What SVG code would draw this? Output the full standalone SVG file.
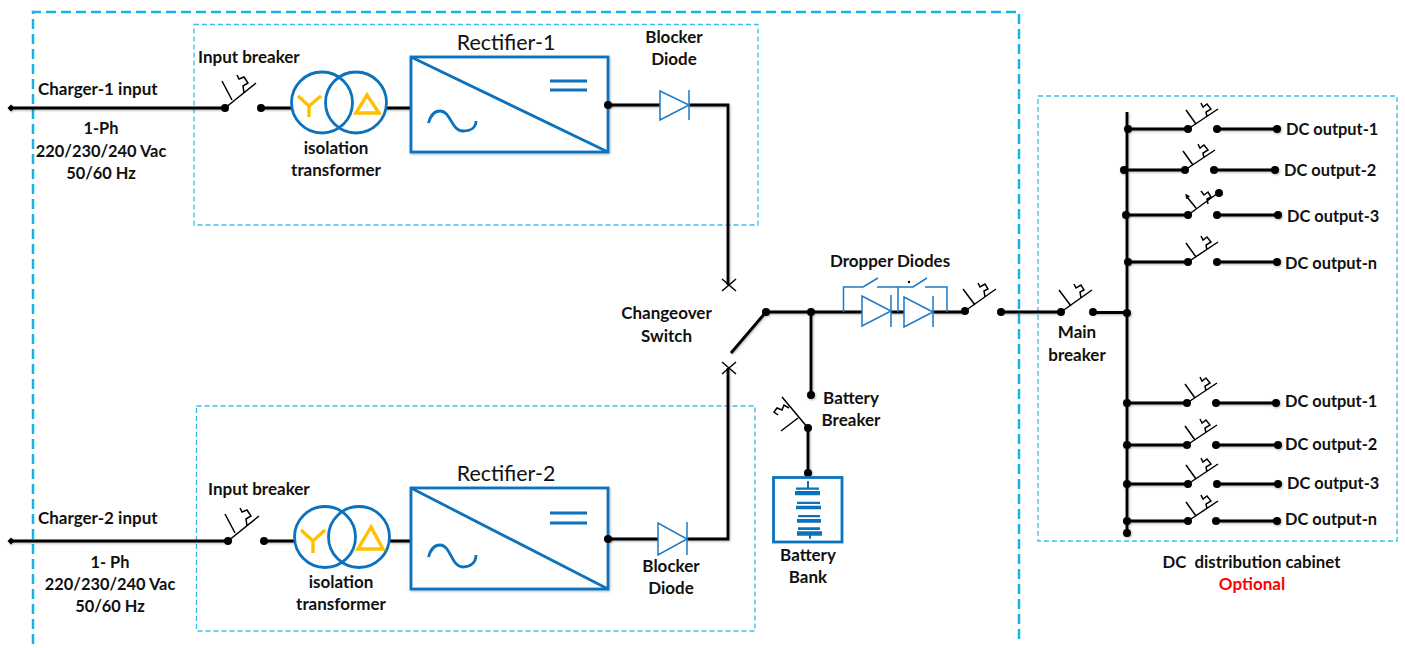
<svg xmlns="http://www.w3.org/2000/svg" width="1405" height="648" viewBox="0 0 1405 648">
<style>
text{font-family:"Lato","Open Sans","Liberation Sans",sans-serif;font-size:17px;font-weight:700;fill:#111}
.s{font-size:16.400px}
.m{text-anchor:middle}
.big{font-size:21.400px;font-weight:400;text-anchor:middle}
.outer{fill:none;stroke:#1cb0e8;stroke-width:2.500;stroke-dasharray:10 5}
.inner{fill:none;stroke:#3dbde9;stroke-width:1.300;stroke-dasharray:5 3}
.w{fill:none;stroke:#000;stroke-width:2.800;stroke-linejoin:miter}
.t{fill:none;stroke:#000;stroke-width:1.500}
.b{fill:none;stroke:#0b72bd;stroke-width:2.800}
.d{fill:none;stroke:#1b79c6;stroke-width:1.500}
.y{fill:none;stroke:#ffc000;stroke-width:3.400}
.p{fill:#0b72bd}
.k{fill:#000}
</style>
<defs>
<filter id="sh" x="-5%" y="-5%" width="110%" height="110%"><feDropShadow dx="0.800" dy="1" stdDeviation="0.900" flood-color="#000" flood-opacity="0.300"/></filter>
<g id="brk">
<circle class="k" r="4"/>
<path class="t" d="M0 0L31-25M-3-27L7-8M12-33L14-29L19-31L23-25L18-22L19-15"/>
</g>
<g id="brk2">
<circle class="k" r="4"/>
<path class="t" d="M0 0L30-20M-2-19L8-5M13-26L15-22L19-25L23-20L18-17L19-12"/>
</g>
<g id="brk3">
<circle class="k" r="4"/>
<path class="t" d="M0 0L31-22M-2-22L10-6M13-28L15-24L20-27L23-22L19-20L20-14"/>
</g>
<g id="x"><path class="t" d="M-7-6L7 6M-7 6L7-6"/></g>
<g id="dot"><circle class="k" r="4"/></g>
</defs>

<g id="boundaries">
<path class="outer" d="M33 644V12H1019V644"/>
<rect class="inner" x="194" y="24.500" width="564" height="200.500"/>
<rect class="inner" x="196.500" y="406" width="558.500" height="225"/>
<rect class="inner" x="1038" y="96" width="359" height="445"/>
</g>

<g id="connectors" filter="url(#sh)">
<path class="w" d="M11 108H225M261 108H291M385 108H411"/>
<path class="w" d="M608 105H660M689 105H728V285"/>
<path class="w" d="M11 541H228M264 541H295M390 541H411"/>
<path class="w" d="M608 539H658M687 539H728V368"/>
<path class="w" d="M731 353L766 312H862M891 312H904M933 312H965"/>
<path class="w" d="M811 312V395"/>
<path class="w" d="M808 428V473"/>
<path class="w" d="M1001 312H1061M1093 312.500H1127"/>
<path class="w" d="M1127 112V533"/>
<path class="w" d="M1128 129H1188M1217 129H1277M1124 170H1185M1214 170H1275M1126 215H1188M1217 215H1278M1128 262H1188M1217 262H1277"/>
<path class="w" d="M1127 403H1187M1216 403H1276M1127 445H1187M1216 445H1278M1127 484H1188M1217 484H1278M1127 521H1188M1216 521H1277"/>
<use href="#dot" x="766" y="312"/><use href="#dot" x="811" y="312"/><use href="#dot" x="811" y="395"/>
<use href="#dot" x="1127" y="313"/><use href="#dot" x="1127" y="533"/>
<use href="#dot" x="1128" y="129"/><use href="#dot" x="1124" y="170"/><use href="#dot" x="1126" y="215"/><use href="#dot" x="1128" y="262"/>
<use href="#dot" x="1127" y="403"/><use href="#dot" x="1127" y="445"/><use href="#dot" x="1127" y="484"/><use href="#dot" x="1127" y="521"/>
<use href="#dot" x="1277" y="129"/><use href="#dot" x="1275" y="170"/><use href="#dot" x="1278" y="215"/><use href="#dot" x="1277" y="262"/>
<use href="#dot" x="1276" y="403"/><use href="#dot" x="1278" y="445"/><use href="#dot" x="1278" y="484"/><use href="#dot" x="1277" y="521"/>
<use href="#dot" x="808" y="473"/>
<path class="k" d="M11 104.500L14.500 108L11 111.500L7.500 108ZM11 537.500L14.500 541L11 544.500L7.500 541Z"/>
</g>

<g id="charger1-breaker"><use href="#brk" x="225" y="108"/><use href="#dot" x="261" y="108"/></g>
<g id="charger2-breaker"><use href="#brk" x="228" y="541"/><use href="#dot" x="264" y="541"/></g>

<g id="transformer1">
<circle class="b" cx="322" cy="102.500" r="30.500"/><circle class="b" cx="356" cy="102.500" r="30.500"/>
<path class="y" d="M298 96L309 106L321 96M309 106V117"/><path class="y" d="M367 95L356 113H379Z"/>
</g>
<g id="transformer2">
<circle class="b" cx="325" cy="537" r="30.500"/><circle class="b" cx="359" cy="537" r="30.500"/>
<path class="y" d="M301 530L313 541L325 530M313 541V553"/><path class="y" d="M371 527L358 549H383Z"/>
</g>

<g id="rectifier1" filter="url(#sh)">
<rect x="411" y="57" width="197" height="95" fill="#fff" stroke="#0b72bd" stroke-width="2.800"/>
<path class="b" d="M411 57L608 152"/>
<path class="b" d="M550 81H587M550 90H587"/>
<path class="b" d="M428.500 123C431 114 436 111 440 111C451 111 451 131 463 131C470 131 476 128 476 121"/>
<circle class="k" cx="608" cy="105" r="4"/>
</g>
<g id="rectifier2" filter="url(#sh)">
<rect x="411" y="488" width="197" height="101" fill="#fff" stroke="#0b72bd" stroke-width="2.800"/>
<path class="b" d="M411 488L608 589"/>
<path class="b" d="M550 513H587M550 523H587"/>
<path class="b" d="M428.500 557C431 548 436 545 440 545C451 545 451 567 463 567C470 567 476 563 476 555"/>
<circle class="k" cx="608" cy="539" r="4"/>
</g>

<g id="blocker-diode1"><path d="M660 91V120L689 105Z" fill="#fff" stroke="#1b79c6" stroke-width="1.500"/><path class="d" d="M689 90V120"/></g>
<g id="blocker-diode2"><path d="M658 523V555L687 539Z" fill="#fff" stroke="#1b79c6" stroke-width="1.500"/><path class="d" d="M687 522V555"/></g>

<g id="changeover-switch">
<use href="#x" x="729" y="285"/><use href="#x" x="729" y="368"/>
</g>

<g id="dropper-diodes">
<path d="M862 296V326L891 311ZM904 297V327L933 312Z" fill="#fff" stroke="#1b79c6" stroke-width="1.500"/>
<path class="d" d="M891 295V327M933 296V327"/>
<path class="d" d="M843.500 312V287H863L878 278M877 287H898V312M898 287H913L927 278M925 287H947V312"/>
<circle class="k" cx="909" cy="282" r="1.200"/>
</g>

<g id="dropper-breaker"><use href="#brk3" x="965" y="311"/><use href="#dot" x="1001" y="312"/></g>
<g id="main-breaker"><use href="#brk3" x="1061" y="312"/><use href="#dot" x="1093" y="312"/></g>

<g id="battery-breaker">
<circle class="k" cx="808" cy="428" r="4"/>
<path class="t" d="M808 428L782 397M781 431L798 418M789 408L784 405L782 410L777 408L774 412L778 415"/>
</g>
<g id="battery-bank">
<rect class="b" x="773.500" y="477.500" width="68.500" height="64.500"/>
<path class="p" d="M807 481h2v7h-2ZM796 487.500h23v2.300h-23ZM795 491h25v4.300h-25ZM797 501.700h23v2.300h-23ZM796 505.700h25v3.600h-25ZM798 515h22v2.300h-22ZM797 519h24v3.700h-24ZM798 527.300h22v2.700h-22ZM797 531.300h25v4.400h-25ZM809 535.700h2v3h-2Z"/>
</g>

<g id="out-a1"><use href="#brk2" x="1188" y="129"/><use href="#dot" x="1217" y="129"/></g>
<g id="out-a2"><use href="#brk2" x="1185" y="170"/><use href="#dot" x="1214" y="170"/></g>
<g id="out-a3">
<circle class="k" cx="1188" cy="215" r="4"/>
<path class="t" d="M1188 215L1218 193M1196 208L1187 197M1201 191L1204 195L1208 192L1211 197L1207 199L1208 204"/>
<path class="k" d="M1185.500 193.500L1190 196.500L1186 199Z"/>
<circle class="k" cx="1219" cy="193" r="4"/>
<use href="#dot" x="1217" y="215"/>
</g>
<g id="out-an"><use href="#brk2" x="1188" y="262"/><use href="#dot" x="1217" y="262"/></g>
<g id="out-b1"><use href="#brk2" x="1187" y="403"/><use href="#dot" x="1216" y="403"/></g>
<g id="out-b2"><use href="#brk2" x="1187" y="445"/><use href="#dot" x="1216" y="445"/></g>
<g id="out-b3"><use href="#brk2" x="1188" y="484"/><use href="#dot" x="1217" y="484"/></g>
<g id="out-bn"><use href="#brk2" x="1188" y="521"/><use href="#dot" x="1216" y="521"/></g>

<g id="labels">
<text x="38" y="95">Charger-1 input</text>
<text class="m s" x="101" y="134">1-Ph</text>
<text class="m s" x="101" y="157">220/230/240 Vac</text>
<text class="m s" x="101" y="179">50/60 Hz</text>
<text x="198" y="63">Input breaker</text>
<text class="m" x="336" y="154">isolation</text>
<text class="m" x="336" y="176">transformer</text>
<text class="big" x="506" y="50">Rectifier-1</text>
<text class="m" x="674" y="43">Blocker</text>
<text class="m" x="674" y="65">Diode</text>
<text class="m" x="666.500" y="319">Changeover</text>
<text class="m" x="666.500" y="342">Switch</text>
<text class="m" x="890" y="267">Dropper Diodes</text>
<text class="m" x="1077" y="338">Main</text>
<text class="m" x="1077" y="361">breaker</text>
<text class="m" x="851" y="404">Battery</text>
<text class="m" x="851" y="426">Breaker</text>
<text class="m" x="808" y="561">Battery</text>
<text class="m" x="808" y="583">Bank</text>
<text x="38" y="524">Charger-2 input</text>
<text class="m s" x="110" y="568">1- Ph</text>
<text class="m s" x="110" y="590">220/230/240 Vac</text>
<text class="m s" x="110" y="612">50/60 Hz</text>
<text x="208" y="495">Input breaker</text>
<text class="m" x="341" y="588">isolation</text>
<text class="m" x="341" y="610">transformer</text>
<text class="big" x="506" y="481">Rectifier-2</text>
<text class="m" x="671" y="572">Blocker</text>
<text class="m" x="671" y="594">Diode</text>
<text class="s" x="1286" y="135">DC output-1</text>
<text class="s" x="1284" y="176">DC output-2</text>
<text class="s" x="1287" y="222">DC output-3</text>
<text class="s" x="1285" y="269">DC output-n</text>
<text class="s" x="1285" y="407">DC output-1</text>
<text class="s" x="1285" y="450">DC output-2</text>
<text class="s" x="1287" y="489">DC output-3</text>
<text class="s" x="1285" y="525">DC output-n</text>
<text class="m" x="1251.500" y="568" xml:space="preserve" style="font-size:16.800px">DC  distribution cabinet</text>
<text class="m" x="1252" y="590" style="fill:#ff0000">Optional</text>
</g>
</svg>
